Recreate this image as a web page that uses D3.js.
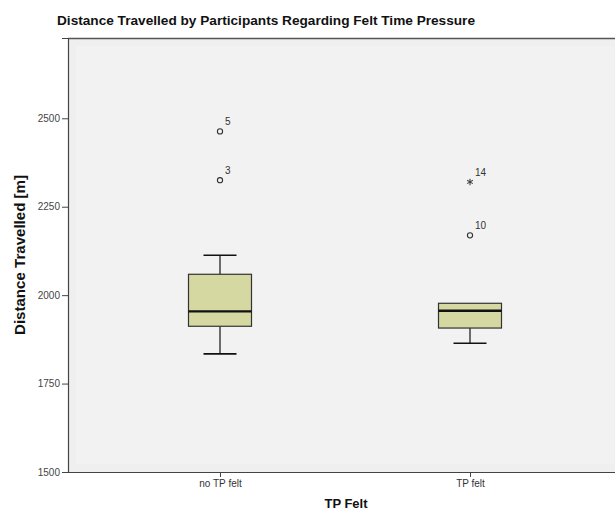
<!DOCTYPE html>
<html>
<head>
<meta charset="utf-8">
<script src="https://cdn.jsdelivr.net/npm/d3@7"></script>
<style>
  html, body { margin: 0; padding: 0; background: #ffffff; }
  svg { display: block; font-family: Arial, "Liberation Sans", sans-serif; }
</style>
</head>
<body>
<svg id="chart" width="615" height="511"></svg>
<script>
// Box plot summaries per group
const categories = ["no TP felt", "TP felt"];
const whiskerLow  = [1834, 1864];
const q1          = [1912, 1907];
const median      = [1954, 1956];
const q3          = [2059, 1977];
const whiskerHigh = [2113, 1977];

// Flagged cases (SPSS case numbers), circle = outlier, star = extreme
const outlierGroup = ["no TP felt", "no TP felt", "TP felt", "TP felt"];
const outlierValue = [2463, 2325, 2320, 2169];
const outlierCase  = ["5", "3", "14", "10"];
const outlierKind  = ["circle", "circle", "star", "circle"];

const yTicks = [1500, 1750, 2000, 2250, 2500];

const svg = d3.select("#chart");
const plot = { left: 68, top: 38, right: 622, bottom: 472 };

const x = d3.scalePoint().domain(categories).range([plot.left, plot.right]).padding(0.608);
const y = d3.scaleLinear().domain([1500, 2727]).range([plot.bottom, plot.top]);
const boxW = 63, capW = 33;

// plot background
svg.append("rect")
  .attr("x", plot.left).attr("y", plot.top)
  .attr("width", plot.right - plot.left).attr("height", plot.bottom - plot.top)
  .attr("fill", "#efefef");
svg.append("rect")
  .attr("x", plot.left + 8).attr("y", plot.top + 8)
  .attr("width", plot.right - plot.left - 16).attr("height", plot.bottom - plot.top - 16)
  .attr("fill", "#f2f2f2");

// frame: top edge
svg.append("line").attr("x1", plot.left).attr("x2", 615)
  .attr("y1", plot.top + 0.5).attr("y2", plot.top + 0.5)
  .attr("stroke", "#555").attr("stroke-width", 1.5);

// y axis
const yAxis = svg.append("g")
  .attr("transform", `translate(${plot.left},0)`)
  .call(d3.axisLeft(y).tickValues(yTicks).tickSize(6).tickPadding(2).tickFormat(d3.format("d")));
yAxis.select(".domain").attr("stroke", "#444").attr("stroke-width", 1.2);
yAxis.selectAll(".tick line").attr("stroke", "#444");
yAxis.selectAll(".tick text").attr("font-size", 10).attr("fill", "#444")
  .attr("font-family", "Arial, 'Liberation Sans', sans-serif");

// x axis
const xAxis = svg.append("g")
  .attr("transform", `translate(0,${plot.bottom})`)
  .call(d3.axisBottom(x).tickSize(5).tickPadding(3).tickSizeOuter(0));
xAxis.select(".domain").attr("stroke", "#444").attr("stroke-width", 1.2)
  .attr("d", `M${plot.left},0.5H615`);
xAxis.selectAll(".tick line").attr("stroke", "#444");
xAxis.selectAll(".tick text").attr("font-size", 10).attr("fill", "#333")
  .attr("font-family", "Arial, 'Liberation Sans', sans-serif");

// boxes
const groups = svg.append("g").selectAll("g").data(categories).join("g");
groups.each(function (c, i) {
  const g = d3.select(this);
  const cx = x(c);
  // whiskers
  g.append("line").attr("x1", cx).attr("x2", cx)
    .attr("y1", y(whiskerHigh[i])).attr("y2", y(q3[i]))
    .attr("stroke", "#111").attr("stroke-width", 1.2);
  g.append("line").attr("x1", cx).attr("x2", cx)
    .attr("y1", y(q1[i])).attr("y2", y(whiskerLow[i]))
    .attr("stroke", "#111").attr("stroke-width", 1.2);
  if (whiskerHigh[i] > q3[i]) {
    g.append("line").attr("x1", cx - capW / 2).attr("x2", cx + capW / 2)
      .attr("y1", y(whiskerHigh[i])).attr("y2", y(whiskerHigh[i]))
      .attr("stroke", "#111").attr("stroke-width", 1.6);
  }
  g.append("line").attr("x1", cx - capW / 2).attr("x2", cx + capW / 2)
    .attr("y1", y(whiskerLow[i])).attr("y2", y(whiskerLow[i]))
    .attr("stroke", "#111").attr("stroke-width", 1.6);
  // box
  g.append("rect")
    .attr("x", cx - boxW / 2).attr("width", boxW)
    .attr("y", y(q3[i])).attr("height", y(q1[i]) - y(q3[i]))
    .attr("fill", "#d6d8a2").attr("stroke", "#333").attr("stroke-width", 1.2);
  // median
  g.append("line").attr("x1", cx - boxW / 2).attr("x2", cx + boxW / 2)
    .attr("y1", y(median[i])).attr("y2", y(median[i]))
    .attr("stroke", "#111").attr("stroke-width", 2.4);
});

// outliers
const out = svg.append("g");
outlierValue.forEach((v, i) => {
  const cx = x(outlierGroup[i]), cy = y(v);
  if (outlierKind[i] === "circle") {
    out.append("circle").attr("cx", cx).attr("cy", cy).attr("r", 2.6)
      .attr("fill", "none").attr("stroke", "#333").attr("stroke-width", 1.1);
  } else {
    out.append("path")
      .attr("d", d3.symbol().type(d3.symbolAsterisk).size(30)())
      .attr("transform", `translate(${cx},${cy})`)
      .attr("fill", "none").attr("stroke", "#444").attr("stroke-width", 1.1);
  }
  out.append("text").attr("x", cx + 5).attr("y", cy - 6)
    .attr("font-size", 10).attr("fill", "#333").text(outlierCase[i]);
});

// titles
svg.append("text").attr("x", 57).attr("y", 25)
  .attr("font-size", 13).attr("font-weight", "bold").attr("fill", "#111")
  .attr("textLength", 418).attr("lengthAdjust", "spacingAndGlyphs")
  .text("Distance Travelled by Participants Regarding Felt Time Pressure");

svg.append("text").attr("transform", "translate(25,255) rotate(-90)")
  .attr("text-anchor", "middle").attr("font-size", 14).attr("font-weight", "bold").attr("fill", "#111")
  .attr("textLength", 160).attr("lengthAdjust", "spacingAndGlyphs")
  .text("Distance Travelled [m]");

svg.append("text").attr("x", 346).attr("y", 508)
  .attr("text-anchor", "middle").attr("font-size", 13).attr("font-weight", "bold").attr("fill", "#111")
  .text("TP Felt");
</script>
</body>
</html>
